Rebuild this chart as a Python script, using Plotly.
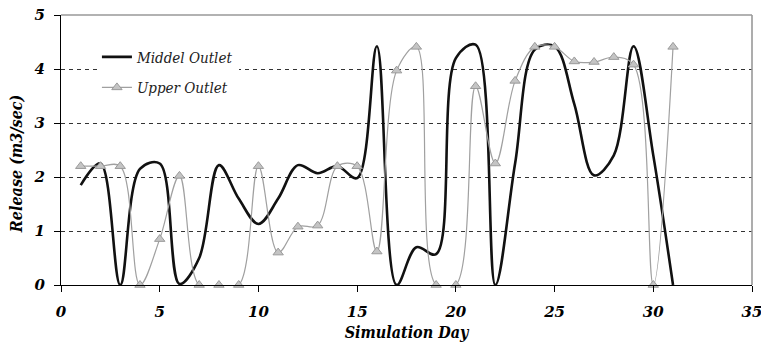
import plotly.graph_objects as go

days = list(range(1, 32))
middel_outlet = [1.85, 2.25, 0.0, 2.15, 2.25, 0.02, 0.5, 2.22, 1.6, 1.13,
                 1.6, 2.22, 2.07, 2.2, 1.98, 4.42, 0.0, 0.7, 0.57, 4.2,
                 4.45, 0.0, 2.25, 4.36, 4.42, 3.35, 2.03, 2.4, 4.42, 2.4, 0.0]
upper_outlet = [2.2, 2.2, 2.2, 0.0, 0.85, 2.02, 0.0, 0.0, 0.0, 2.2,
                0.6, 1.08, 1.1, 2.2, 2.2, 0.62, 3.97, 4.41, 0.0, 0.0,
                3.68, 2.25, 3.78, 4.41, 4.41, 4.14, 4.13, 4.22, 4.08, 0.0, 4.41]
x_ticks = [0, 5, 10, 15, 20, 25, 30, 35]
y_ticks = [0, 1, 2, 3, 4, 5]

serif = "DejaVu Serif"
serif_c = "DejaVu Serif Condensed, DejaVu Serif"

fig = go.Figure()
fig.add_trace(go.Scatter(
    x=days, y=middel_outlet, name="Middel Outlet", mode="lines",
    line=dict(color="#111111", width=2.6, shape="spline", smoothing=1.0),
    legendgroup="a",
))
fig.add_trace(go.Scatter(
    x=days, y=upper_outlet, name="Upper Outlet", mode="lines+markers",
    line=dict(color="#a0a0a0", width=1.2, shape="spline", smoothing=1.0),
    marker=dict(symbol="triangle-up", size=9, color="#c4c4c4",
                line=dict(color="#9a9a9a", width=1)),
    cliponaxis=False, legendgroup="b",
))

tickfont = dict(family=serif, size=15, color="black", weight="bold", style="italic")
titlefont = dict(family=serif_c, size=16, color="black", weight="bold", style="italic")

fig.update_layout(
    width=761, height=347,
    margin=dict(l=61, r=9, t=15, b=62, autoexpand=False),
    plot_bgcolor="white", paper_bgcolor="white",
    showlegend=True,
    legend=dict(x=0.052, y=0.905, xanchor="left", yanchor="top",
                bgcolor="white", borderwidth=0,
                font=dict(family=serif_c, size=15, color="#222222", style="italic"),
                traceorder="grouped", tracegroupgap=8, itemwidth=30),
    xaxis=dict(range=[0, 35], tickvals=x_ticks, ticks="outside", ticklen=6,
               tickcolor="black", showline=True, linecolor="black", linewidth=1.3,
               showgrid=False, zeroline=False, tickfont=tickfont,
               ticklabelstandoff=7, automargin=False, ticklabeloverflow="allow",
               title=dict(text="Simulation Day", font=titlefont, standoff=6)),
    yaxis=dict(range=[0, 5], tickvals=y_ticks, ticks="outside", ticklen=6,
               tickcolor="black", showline=True, linecolor="black", linewidth=1.3,
               showgrid=True, gridcolor="#333333", griddash="4px,4px", gridwidth=1,
               zeroline=False, tickfont=tickfont, ticklabelstandoff=6,
               automargin=False, ticklabeloverflow="allow"),
    annotations=[
        dict(text="Release (m3/sec)", font=titlefont, textangle=-90,
             xref="paper", yref="paper", x=-0.065, y=0.448,
             xanchor="center", yanchor="middle", showarrow=False),
    ],
    shapes=[
        dict(type="line", xref="paper", yref="paper", x0=0, x1=1, y0=1, y1=1,
             line=dict(color="#999999", width=1.6), layer="above"),
        dict(type="line", xref="paper", yref="paper", x0=1, x1=1, y0=0, y1=1,
             line=dict(color="#999999", width=1.6), layer="above"),
    ],
)

fig.write_html("out.html", config={"displayModeBar": False},
               post_script="document.body.style.margin='0px';")
